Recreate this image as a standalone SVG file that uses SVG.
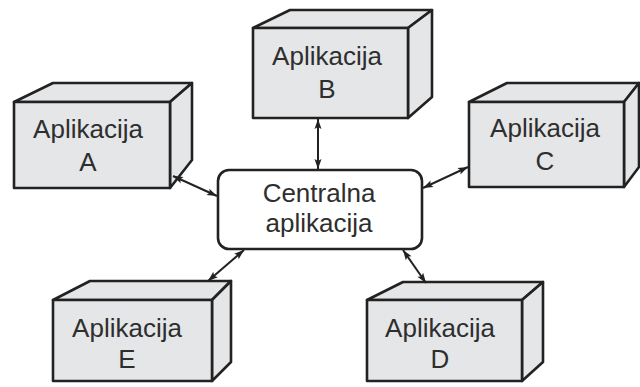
<svg xmlns="http://www.w3.org/2000/svg" width="640" height="387" viewBox="0 0 640 387">
  <defs>
    <marker id="arr" viewBox="0 0 10 8" refX="10" refY="4" markerWidth="11" markerHeight="8" orient="auto-start-reverse" markerUnits="userSpaceOnUse">
      <path d="M0,0.5 L10,4 L0,7.5 L2,4 z" fill="#222"/>
    </marker>
    <style>
      .face { fill: #e4e6e8; stroke: #222; stroke-width: 2.6; stroke-linejoin: round; }
      .lbl { font-family: "Liberation Sans", Arial, sans-serif; font-size: 26px; fill: #2e2e2e; text-anchor: middle; }
      .link { stroke: #222; stroke-width: 2; fill: none; marker-start: url(#arr); marker-end: url(#arr); }
    </style>
  </defs>
  <rect width="640" height="387" fill="#fff"/>

  <g id="app-b">
    <path class="face" d="M253,28 L290,10 L432,10 L408,28 Z"/>
    <path class="face" d="M408,28 L432,10 L432,97 L408,118 Z"/>
    <rect class="face" x="253" y="28" width="155" height="90"/>
    <text class="lbl" x="327" y="65">Aplikacija</text>
    <text class="lbl" x="327" y="98">B</text>
  </g>

  <g id="app-a">
    <path class="face" d="M14,102 L53,83 L192,83 L170,102 Z"/>
    <path class="face" d="M170,102 L192,83 L192,160 L170,188 Z"/>
    <rect class="face" x="14" y="102" width="156" height="86"/>
    <text class="lbl" x="88" y="138">Aplikacija</text>
    <text class="lbl" x="88" y="171">A</text>
  </g>

  <g id="app-c">
    <path class="face" d="M469,102 L507,83 L639,83 L624,102 Z"/>
    <path class="face" d="M624,102 L639,83 L639,167 L624,187 Z"/>
    <rect class="face" x="469" y="102" width="155" height="85"/>
    <text class="lbl" x="545" y="137">Aplikacija</text>
    <text class="lbl" x="545" y="170">C</text>
  </g>

  <g id="app-e">
    <path class="face" d="M53,300 L90,281 L231,281 L212,300 Z"/>
    <path class="face" d="M212,300 L231,281 L231,362 L212,381 Z"/>
    <rect class="face" x="53" y="300" width="159" height="81"/>
    <text class="lbl" x="127" y="337">Aplikacija</text>
    <text class="lbl" x="127" y="368">E</text>
  </g>

  <g id="app-d">
    <path class="face" d="M367,300 L403,282 L543,282 L522,300 Z"/>
    <path class="face" d="M522,300 L543,282 L543,362 L522,381 Z"/>
    <rect class="face" x="367" y="300" width="155" height="81"/>
    <text class="lbl" x="440" y="337">Aplikacija</text>
    <text class="lbl" x="440" y="368">D</text>
  </g>

  <g id="central">
    <rect x="218" y="170" width="204" height="79" rx="11" ry="11" fill="#fff" stroke="#222" stroke-width="2.6"/>
    <text class="lbl" x="319" y="202">Centralna</text>
    <text class="lbl" x="319" y="232">aplikacija</text>
  </g>

  <!-- connectors between the hub and each application, drawn on top so the heads show -->
  <g id="connectors">
    <line class="link" x1="318" y1="119" x2="318" y2="169"/>
    <line class="link" x1="173" y1="176" x2="217" y2="196"/>
    <line class="link" x1="423" y1="188" x2="468" y2="167"/>
    <line class="link" x1="208" y1="281" x2="244" y2="250"/>
    <line class="link" x1="403" y1="250" x2="426" y2="283"/>
  </g>
</svg>
